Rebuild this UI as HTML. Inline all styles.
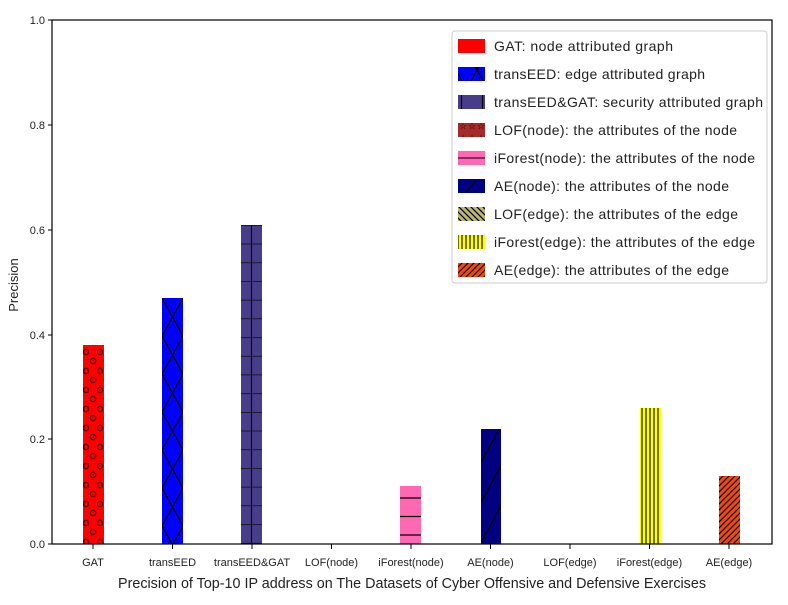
<!DOCTYPE html>
<html><head><meta charset="utf-8"><style>body{margin:0;background:#fff}svg{display:block}text{font-family:"Liberation Sans",sans-serif;fill:#222}</style></head>
<body>
<svg width="788" height="605" viewBox="0 0 788 605" xmlns="http://www.w3.org/2000/svg">
<defs>
<pattern id="pdot" width="14" height="19" patternUnits="userSpaceOnUse" x="83" y="346"><rect width="14" height="19" fill="#f00"/><circle cx="3" cy="6" r="2.6" fill="none" stroke="#600" stroke-width="1.5"/><circle cx="10" cy="15" r="2.6" fill="none" stroke="#600" stroke-width="1.5"/></pattern>
<pattern id="px" width="21" height="38" patternUnits="userSpaceOnUse" x="162" y="298"><rect width="21" height="38" fill="#00f"/><path d="M0,0L21,38M21,0L0,38" stroke="#000" stroke-width="1.3"/></pattern>
<pattern id="pplus" width="21" height="18.7" patternUnits="userSpaceOnUse" x="241" y="225"><rect width="21" height="18.7" fill="#483d8b"/><path d="M0,0H21M10.5,0V18.7" stroke="#000" stroke-width="1.2"/></pattern>
<pattern id="ph" width="21" height="18.5" patternUnits="userSpaceOnUse" x="400" y="487"><rect width="21" height="18.5" fill="#ff69b4"/><path d="M0,11H21" stroke="#000" stroke-width="1.3"/></pattern>
<pattern id="pslash" width="20" height="40" patternUnits="userSpaceOnUse" x="481" y="544"><rect width="20" height="40" fill="#000080"/><path d="M-2,42L22,-2M-2,2L2,-2M18,42L22,38" stroke="#000" stroke-width="1.2"/></pattern>
<pattern id="pv" width="4" height="10" patternUnits="userSpaceOnUse" x="640" y="0"><rect width="4" height="10" fill="#ff0"/><path d="M2,0V10" stroke="#000" stroke-width="1.1"/></pattern>
<pattern id="pd" width="6" height="6" patternUnits="userSpaceOnUse" x="719" y="0"><rect width="6" height="6" fill="#ff4500"/><path d="M-1,7L7,-1M-1,1L1,-1M5,7L7,5" stroke="#000" stroke-width="1.2"/></pattern>
<pattern id="pbs" width="6" height="6" patternUnits="userSpaceOnUse"><rect width="6" height="6" fill="#bdb76b"/><path d="M-1,-1L7,7M5,-1L7,1M-1,5L1,7" stroke="#000" stroke-width="1.2"/></pattern>
<pattern id="pstar" width="9" height="12" patternUnits="userSpaceOnUse"><rect width="9" height="12" fill="#a52a2a"/><text x="0" y="9" font-size="9" style="fill:#000">☆</text></pattern>
</defs>
<rect x="83" y="345" width="21" height="199" fill="url(#pdot)"/>
<rect x="162" y="298" width="21" height="246" fill="url(#px)"/>
<rect x="241" y="225" width="21" height="319" fill="url(#pplus)"/>
<rect x="400" y="486" width="21" height="58" fill="url(#ph)"/>
<rect x="481" y="429" width="20" height="115" fill="url(#pslash)"/>
<rect x="640" y="408" width="21" height="136" fill="url(#pv)"/>
<rect x="719" y="476" width="21" height="68" fill="url(#pd)"/>
<rect x="52" y="20" width="720" height="524" fill="none" stroke="#000" stroke-width="1.2"/>
<g stroke="#000" stroke-width="1">
<path d="M48,544H52M48,439H52M48,335H52M48,230H52M48,125H52M48,20H52"/>
<path d="M93,544V549M172.5,544V549M252,544V549M331.5,544V549M411,544V549M490.5,544V549M570,544V549M649.5,544V549M729,544V549"/>
</g>
<g font-size="11" text-anchor="end">
<text x="45" y="548">0.0</text><text x="45" y="443">0.2</text><text x="45" y="339">0.4</text><text x="45" y="234">0.6</text><text x="45" y="129">0.8</text><text x="45" y="24">1.0</text>
</g>
<g font-size="11" text-anchor="middle">
<text x="93" y="566">GAT</text><text x="172.5" y="566">transEED</text><text x="252" y="566">transEED&amp;GAT</text><text x="331.5" y="566">LOF(node)</text><text x="411" y="566">iForest(node)</text><text x="490.5" y="566">AE(node)</text><text x="570" y="566">LOF(edge)</text><text x="649.5" y="566">iForest(edge)</text><text x="729" y="566">AE(edge)</text>
</g>
<text x="412" y="588" font-size="15" text-anchor="middle" textLength="588" lengthAdjust="spacingAndGlyphs">Precision of Top-10 IP address on The Datasets of Cyber Offensive and Defensive Exercises</text>
<text transform="translate(18,285) rotate(-90)" font-size="13" text-anchor="middle">Precision</text>
<rect x="452" y="31" width="315" height="252" rx="3" fill="#fff" stroke="#ccc"/>
<rect x="458" y="39" width="27" height="14" fill="#f00"/>
<rect x="458" y="67" width="27" height="14" fill="url(#px)"/>
<rect x="458" y="95" width="27" height="14" fill="url(#pplus)"/>
<rect x="458" y="123" width="27" height="14" fill="url(#pstar)"/>
<rect x="458" y="151" width="27" height="14" fill="#ff69b4"/><path d="M458,158H485" stroke="#000"/>
<rect x="458" y="179" width="27" height="14" fill="#000080"/><path d="M466,192L476,181" stroke="#000"/>
<rect x="458" y="207" width="27" height="14" fill="url(#pbs)"/>
<rect x="458" y="235" width="27" height="14" fill="url(#pv)"/>
<rect x="458" y="263" width="27" height="14" fill="url(#pd)"/>
<g font-size="14" lengthAdjust="spacingAndGlyphs">
<text x="494" y="51" textLength="179">GAT: node attributed graph</text>
<text x="494" y="79" textLength="211">transEED: edge attributed graph</text>
<text x="494" y="107" textLength="269">transEED&amp;GAT: security attributed graph</text>
<text x="494" y="135" textLength="243">LOF(node): the attributes of the node</text>
<text x="494" y="163" textLength="261">iForest(node): the attributes of the node</text>
<text x="494" y="191" textLength="235">AE(node): the attributes of the node</text>
<text x="494" y="219" textLength="244">LOF(edge): the attributes of the edge</text>
<text x="494" y="247" textLength="261">iForest(edge): the attributes of the edge</text>
<text x="494" y="275" textLength="235">AE(edge): the attributes of the edge</text>
</g>
</svg>
</body></html>
